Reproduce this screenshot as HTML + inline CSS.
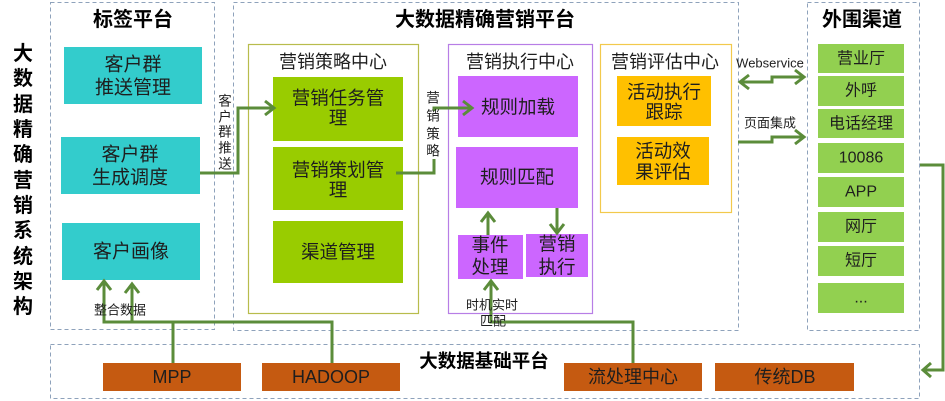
<!DOCTYPE html>
<html>
<head>
<meta charset="utf-8">
<style>
html,body{margin:0;padding:0;background:#fff;}
svg{display:block;}
text{font-family:"Liberation Sans","Noto Sans CJK SC",sans-serif;fill:#1e1e1e;}
.b{font-weight:bold;fill:#000;}
</style>
</head>
<body>
<svg width="945" height="401" viewBox="0 0 945 401" xmlns="http://www.w3.org/2000/svg">
  <!-- dashed panels -->
  <g fill="none" stroke="#8ea2bb" stroke-width="1" stroke-dasharray="4,3">
    <rect x="50.5" y="2.5" width="164" height="327"/>
    <rect x="233.5" y="2.5" width="505" height="328"/>
    <rect x="807.5" y="2.5" width="112" height="328"/>
    <rect x="50.5" y="344.5" width="869" height="54"/>
  </g>

  <!-- containers -->
  <rect x="248.5" y="44.5" width="170" height="269" fill="none" stroke="#b8bc4c" stroke-width="1.2"/>
  <rect x="448.5" y="44.5" width="144" height="269" fill="none" stroke="#b77ee6" stroke-width="1.2"/>
  <rect x="600.5" y="44.5" width="131" height="168" fill="none" stroke="#f2c94c" stroke-width="1.2"/>

  <!-- teal boxes -->
  <rect x="64" y="47" width="138" height="57" fill="#33cccc"/>
  <rect x="61" y="137" width="139" height="57" fill="#33cccc"/>
  <rect x="62" y="223" width="138" height="57" fill="#33cccc"/>

  <!-- strategy boxes -->
  <rect x="273" y="77" width="130" height="64" fill="#99cc00"/>
  <rect x="273" y="147" width="130" height="63" fill="#99cc00"/>
  <rect x="273" y="221" width="130" height="62" fill="#99cc00"/>

  <!-- execution boxes -->
  <rect x="458" y="76" width="120" height="61" fill="#cc66ff"/>
  <rect x="456" y="147" width="122" height="61" fill="#cc66ff"/>
  <rect x="458" y="235" width="65" height="44" fill="#cc66ff"/>
  <rect x="526" y="234" width="62" height="43" fill="#cc66ff"/>

  <!-- evaluation boxes -->
  <rect x="617" y="76" width="94" height="50" fill="#ffc000"/>
  <rect x="617" y="137" width="92" height="48" fill="#ffc000"/>

  <!-- channel boxes -->
  <g fill="#92d050">
    <rect x="818" y="44" width="86" height="29"/>
    <rect x="818" y="76" width="86" height="30"/>
    <rect x="818" y="109" width="86" height="29"/>
    <rect x="818" y="143" width="86" height="30"/>
    <rect x="818" y="177" width="86" height="30"/>
    <rect x="818" y="212" width="86" height="30"/>
    <rect x="818" y="246" width="86" height="30"/>
    <rect x="818" y="283" width="86" height="30"/>
  </g>

  <!-- base boxes -->
  <g fill="#c55a11">
    <rect x="103" y="363" width="138" height="28"/>
    <rect x="262" y="363" width="138" height="28"/>
    <rect x="564" y="363" width="138" height="28"/>
    <rect x="715" y="363" width="139" height="28"/>
  </g>

  <!-- connectors -->
  <g fill="none" stroke="#5b8c3a" stroke-width="3" stroke-linejoin="miter">
    <!-- 客户群 -> 营销任务管理 -->
    <polyline points="200,173 238,173 238,108 273,108"/>
    <polyline points="265,101 274,108 265,115"/>
    <!-- 营销策划管理 -> 规则加载 -->
    <polyline points="396,173 434,173 434,108 470,108"/>
    <polyline points="463,101 472,108 463,115"/>
    <!-- data integration -->
    <polyline points="104,281 104,322 332,322 332,363"/>
    <polyline points="132,284 132,322"/>
    <polyline points="173,322 173,363"/>
    <polyline points="97,290 104,281 111,290"/>
    <polyline points="125,293 132,284 139,293"/>
    <!-- execution internal -->
    <polyline points="488,235 488,214"/>
    <polyline points="481,222 488,213 495,222"/>
    <polyline points="557,208 557,232"/>
    <polyline points="550,224 557,233 564,224"/>
    <!-- stream -> event -->
    <polyline points="491,282 491,322 633,322 633,363"/>
    <polyline points="484,290 491,281 498,290"/>
    <!-- webservice double arrow -->
    <polyline points="741,82 772,82 772,77 802,77"/>
    <polyline points="749,75 740,82 749,89"/>
    <polyline points="795,70 804,77 795,84"/>
    <!-- page integration -->
    <polyline points="738,142 772,142 772,137 802,137"/>
    <polyline points="795,130 804,137 795,144"/>
    <!-- right loop -->
    <polyline points="920,165 943,165 943,370 925,370"/>
    <polyline points="931,363 923,370 931,377"/>
  </g>

  <!-- white bg for vertical label over line -->
  <rect x="426" y="111" width="15" height="48" fill="#fff"/>

  <!-- titles -->
  <g class="b" font-size="20" text-anchor="middle" dominant-baseline="central">
    <text x="133" y="20" class="b">标签平台</text>
    <text x="485" y="20" class="b">大数据精确营销平台</text>
    <text x="862" y="20" class="b">外围渠道</text>
  </g>
  <text x="484" y="361" class="b" font-size="18.5" text-anchor="middle" dominant-baseline="central">大数据基础平台</text>

  <!-- left vertical title -->
  <g font-size="20" text-anchor="middle" dominant-baseline="central">
    <text class="b" x="23" y="54">大</text>
    <text class="b" x="23" y="79">数</text>
    <text class="b" x="23" y="105">据</text>
    <text class="b" x="23" y="130">精</text>
    <text class="b" x="23" y="155">确</text>
    <text class="b" x="23" y="181">营</text>
    <text class="b" x="23" y="206">销</text>
    <text class="b" x="23" y="231">系</text>
    <text class="b" x="23" y="257">统</text>
    <text class="b" x="23" y="282">架</text>
    <text class="b" x="23" y="307">构</text>
  </g>

  <!-- container titles -->
  <g font-size="18" text-anchor="middle" dominant-baseline="central">
    <text x="333" y="62">营销策略中心</text>
    <text x="520" y="62">营销执行中心</text>
    <text x="665" y="62">营销评估中心</text>
  </g>

  <!-- box texts -->
  <g font-size="19" text-anchor="middle" dominant-baseline="central">
    <text x="133" y="65">客户群</text>
    <text x="133" y="88">推送管理</text>
    <text x="130" y="155">客户群</text>
    <text x="130" y="178">生成调度</text>
    <text x="131" y="252">客户画像</text>
  </g>
  <g font-size="18.5" text-anchor="middle" dominant-baseline="central">
    <text x="338" y="98">营销任务管</text>
    <text x="338" y="118">理</text>
    <text x="338" y="170">营销策划管</text>
    <text x="338" y="190">理</text>
    <text x="338" y="252">渠道管理</text>
    <text x="518" y="107">规则加载</text>
    <text x="517" y="177">规则匹配</text>
    <text x="490" y="245">事件</text>
    <text x="490" y="267">处理</text>
    <text x="557" y="244">营销</text>
    <text x="557" y="267">执行</text>
    <text x="664" y="92">活动执行</text>
    <text x="664" y="112">跟踪</text>
    <text x="663" y="151">活动效</text>
    <text x="663" y="172">果评估</text>
  </g>

  <!-- channel texts -->
  <g font-size="16" text-anchor="middle" dominant-baseline="central">
    <text x="861" y="59">营业厅</text>
    <text x="861" y="91">外呼</text>
    <text x="861" y="124">电话经理</text>
    <text x="861" y="158">10086</text>
    <text x="861" y="192">APP</text>
    <text x="861" y="227">网厅</text>
    <text x="861" y="261">短厅</text>
    <text x="861" y="298">...</text>
  </g>

  <!-- base texts -->
  <g font-size="18" text-anchor="middle" dominant-baseline="central">
    <text x="172" y="377">MPP</text>
    <text x="331" y="377">HADOOP</text>
    <text x="633" y="377">流处理中心</text>
    <text x="785" y="377">传统DB</text>
  </g>

  <!-- small labels -->
  <g font-size="13.5" text-anchor="middle" dominant-baseline="central">
    <text x="225" y="101">客</text>
    <text x="225" y="117">户</text>
    <text x="225" y="132">群</text>
    <text x="225" y="148">推</text>
    <text x="225" y="164">送</text>
    <text x="433" y="98">营</text>
    <text x="433" y="116">销</text>
    <text x="433" y="134">策</text>
    <text x="433" y="151">略</text>
  </g>
  <g font-size="13" text-anchor="middle" dominant-baseline="central">
    <text x="120" y="310">整合数据</text>
    <text x="492" y="305">时机实时</text>
    <text x="493" y="321">匹配</text>
    <text x="770" y="63">Webservice</text>
    <text x="770" y="123">页面集成</text>
  </g>
</svg>
</body>
</html>
